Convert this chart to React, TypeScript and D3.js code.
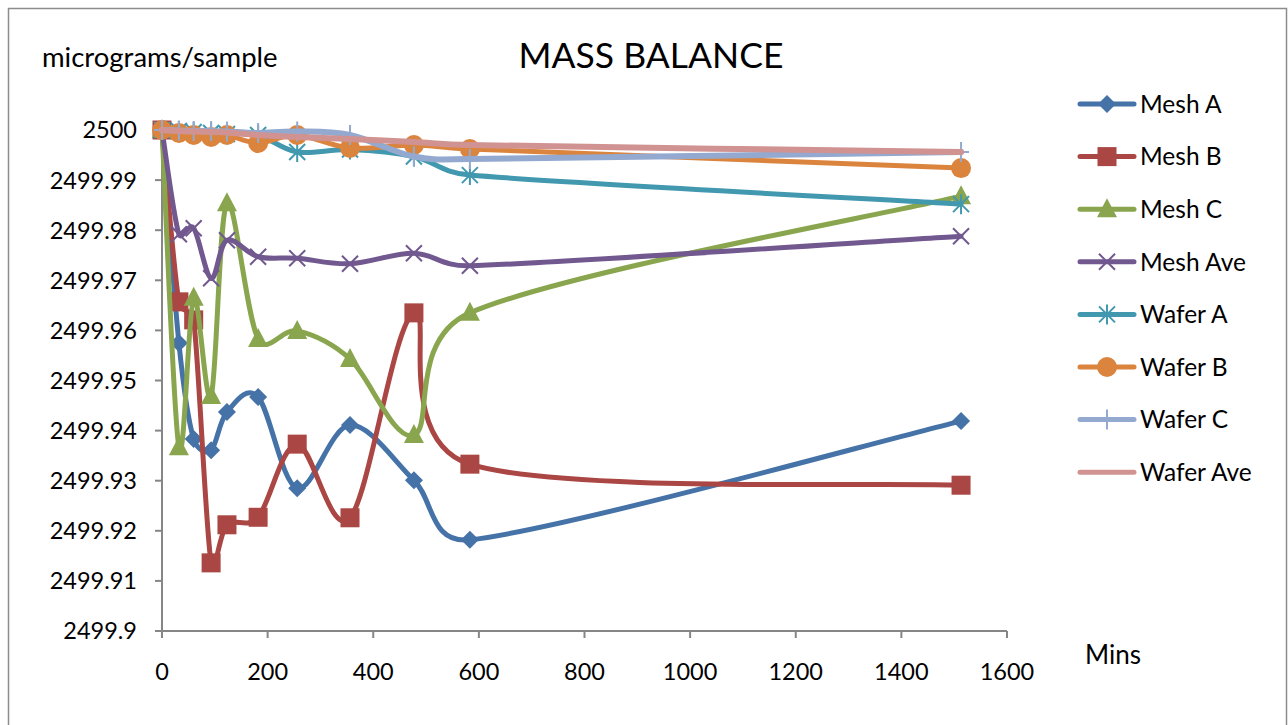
import React from "react";
import * as d3 from "d3";

// Sample times (minutes) shared by every series
const minutes = [0, 32, 60, 93, 123, 182, 256, 356, 477, 583, 1513];

const meshA = [2500, 2499.9575, 2499.9383, 2499.9361, 2499.9437, 2499.9467, 2499.9285, 2499.9411, 2499.9301, 2499.9182, 2499.9419];
const meshB = [2500, 2499.9657, 2499.9621, 2499.9136, 2499.9212, 2499.9227, 2499.9373, 2499.9226, 2499.9635, 2499.9333, 2499.9291];
const meshC = [2500, 2499.9367, 2499.9665, 2499.9469, 2499.9854, 2499.9583, 2499.9599, 2499.9543, 2499.9391, 2499.9635, 2499.9868];
const meshAve = [2500, 2499.9792, 2499.9804, 2499.9704, 2499.978, 2499.9747, 2499.9744, 2499.9733, 2499.9754, 2499.9729, 2499.9788];
const waferA = [2500, 2499.9998, 2499.9996, 2499.9994, 2499.9992, 2499.999, 2499.9956, 2499.9961, 2499.9947, 2499.991, 2499.9852];
const waferB = [2500, 2499.9994, 2499.999, 2499.9986, 2499.999, 2499.9974, 2499.999, 2499.9964, 2499.997, 2499.9962, 2499.9924];
const waferC = [2500, 2499.9999, 2499.9998, 2499.9998, 2499.9997, 2499.9994, 2499.9997, 2499.999, 2499.9947, 2499.9942, 2499.9956];
const waferAve = [2500, 2499.9998, 2499.9997, 2499.9996, 2499.9995, 2499.999, 2499.9986, 2499.9982, 2499.9976, 2499.997, 2499.9956];

const seriesNames = ["Mesh A", "Mesh B", "Mesh C", "Mesh Ave", "Wafer A", "Wafer B", "Wafer C", "Wafer Ave"];
const seriesValues = [meshA, meshB, meshC, meshAve, waferA, waferB, waferC, waferAve];
const seriesColors = ["#4572A7", "#AA4643", "#89A54E", "#71588F", "#4198AF", "#DB843D", "#93A9CF", "#D19392"];
const seriesMarkers = ["diamond", "square", "triangle", "x", "asterisk", "circle", "plus", "none"];

const xTicks = [0, 200, 400, 600, 800, 1000, 1200, 1400, 1600];
const yTicks = [2499.9, 2499.91, 2499.92, 2499.93, 2499.94, 2499.95, 2499.96, 2499.97, 2499.98, 2499.99, 2500];

const FONT = "Lato, 'Open Sans', sans-serif";
const AXIS = "#868686";

type Pt = [number, number];

// Smoothed line: Catmull-Rom tangents (1/6 of the neighbour chord), with each
// control arm capped at half the length of the segment it belongs to so short
// segments next to long ones do not kink.
function smoothPath(pts: Pt[]): string {
  const p = d3.path();
  const n = pts.length;
  if (!n) return "";
  p.moveTo(pts[0][0], pts[0][1]);
  const dist = (a: Pt, b: Pt) => Math.hypot(b[0] - a[0], b[1] - a[1]);
  const tangent = (i: number): Pt => {
    const a = pts[Math.max(0, i - 1)];
    const b = pts[Math.min(n - 1, i + 1)];
    return [(b[0] - a[0]) / 6, (b[1] - a[1]) / 6];
  };
  const cap = (t: Pt, maxLen: number): Pt => {
    const len = Math.hypot(t[0], t[1]);
    if (len <= maxLen || len === 0) return t;
    const k = maxLen / len;
    return [t[0] * k, t[1] * k];
  };
  for (let i = 0; i < n - 1; i++) {
    const a = pts[i];
    const b = pts[i + 1];
    const seg = dist(a, b);
    const ta = cap(tangent(i), seg * 0.5);
    const tb = cap(tangent(i + 1), seg * 0.5);
    p.bezierCurveTo(a[0] + ta[0], a[1] + ta[1], b[0] - tb[0], b[1] - tb[1], b[0], b[1]);
  }
  return p.toString();
}

function Marker({ kind, x, y, color }: { kind: string; x: number; y: number; color: string }) {
  switch (kind) {
    case "diamond":
      return <path d={`M${x},${y - 9}L${x + 9},${y}L${x},${y + 9}L${x - 9},${y}Z`} fill={color} />;
    case "square":
      return <rect x={x - 9.5} y={y - 9.5} width={19} height={19} fill={color} />;
    case "triangle":
      return <path d={`M${x},${y - 11}L${x + 10},${y + 8}L${x - 10},${y + 8}Z`} fill={color} />;
    case "circle":
      return <circle cx={x} cy={y} r={10} fill={color} />;
    case "x":
      return (
        <path d={`M${x - 8},${y - 8}L${x + 8},${y + 8}M${x - 8},${y + 8}L${x + 8},${y - 8}`} stroke={color} strokeWidth={2} />
      );
    case "asterisk":
      return (
        <path
          d={`M${x - 8},${y - 8}L${x + 8},${y + 8}M${x - 8},${y + 8}L${x + 8},${y - 8}M${x},${y - 10}L${x},${y + 10}`}
          stroke={color}
          strokeWidth={2}
        />
      );
    case "plus":
      return <path d={`M${x},${y - 10}L${x},${y + 10}M${x - 8},${y}L${x + 8},${y}`} stroke={color} strokeWidth={2} />;
    default:
      return null;
  }
}

export default function App() {
  const W = 1288;
  const H = 725;
  const x = d3.scaleLinear().domain([0, 1600]).range([162, 1007]);
  const y = d3.scaleLinear().domain([2499.9, 2500]).range([631, 130]);

  const legendX = 1080;
  const legendY0 = 104;
  const legendStep = 52.6;

  return (
    <svg width={W} height={H} style={{ position: "absolute", left: 0, top: 0, fontFamily: FONT }}>
      <rect x={0} y={0} width={W} height={H} fill="#fff" />
      <rect x={8.5} y={8.5} width={1278} height={740} fill="#fff" stroke="#8c8c8c" strokeWidth={1.5} />

      <text x={651} y={68} textAnchor="middle" fontSize={35.5} fill="#000">
        MASS BALANCE
      </text>
      <text x={42} y={67} fontSize={27.5} fill="#000">
        micrograms/sample
      </text>

      {/* y axis */}
      <line x1={x(0)} x2={x(0)} y1={y(2499.9)} y2={y(2500)} stroke={AXIS} strokeWidth={2} />
      {yTicks.map((t) => (
        <g key={t}>
          <line x1={x(0) - 7} x2={x(0)} y1={y(t)} y2={y(t)} stroke={AXIS} strokeWidth={2} />
          <text x={137} y={y(t)} dy="0.36em" textAnchor="end" fontSize={23.5} fill="#000">
            {d3.format("")(t)}
          </text>
        </g>
      ))}

      {/* x axis */}
      <line x1={x(0)} x2={x(1600)} y1={y(2499.9)} y2={y(2499.9)} stroke={AXIS} strokeWidth={2} />
      {xTicks.map((t) => (
        <g key={t}>
          <line x1={x(t)} x2={x(t)} y1={y(2499.9)} y2={y(2499.9) + 7} stroke={AXIS} strokeWidth={2} />
          <text x={x(t)} y={680} textAnchor="middle" fontSize={23.5} fill="#000">
            {t}
          </text>
        </g>
      ))}
      <text x={1085} y={664} fontSize={26} fill="#000">
        Mins
      </text>

      {/* series */}
      {seriesValues.map((vals, i) => {
        const pts = minutes.map((m, j) => [x(m), y(vals[j])] as Pt);
        return (
          <g key={seriesNames[i]}>
            <path
              d={smoothPath(pts)}
              fill="none"
              stroke={seriesColors[i]}
              strokeWidth={i >= 6 ? 6 : 5}
              strokeLinejoin="round"
              strokeLinecap="round"
            />
            {pts.map((p, j) => (
              <Marker key={j} kind={seriesMarkers[i]} x={p[0]} y={p[1]} color={seriesColors[i]} />
            ))}
          </g>
        );
      })}

      {/* legend */}
      {seriesNames.map((name, i) => {
        const cy = legendY0 + i * legendStep;
        return (
          <g key={name}>
            <line x1={legendX} x2={legendX + 54} y1={cy} y2={cy} stroke={seriesColors[i]} strokeWidth={5} strokeLinecap="round" />
            <Marker kind={seriesMarkers[i]} x={legendX + 27} y={cy} color={seriesColors[i]} />
            <text x={legendX + 60} y={cy} dy="0.36em" fontSize={24.5} fill="#000">
              {name}
            </text>
          </g>
        );
      })}
    </svg>
  );
}
